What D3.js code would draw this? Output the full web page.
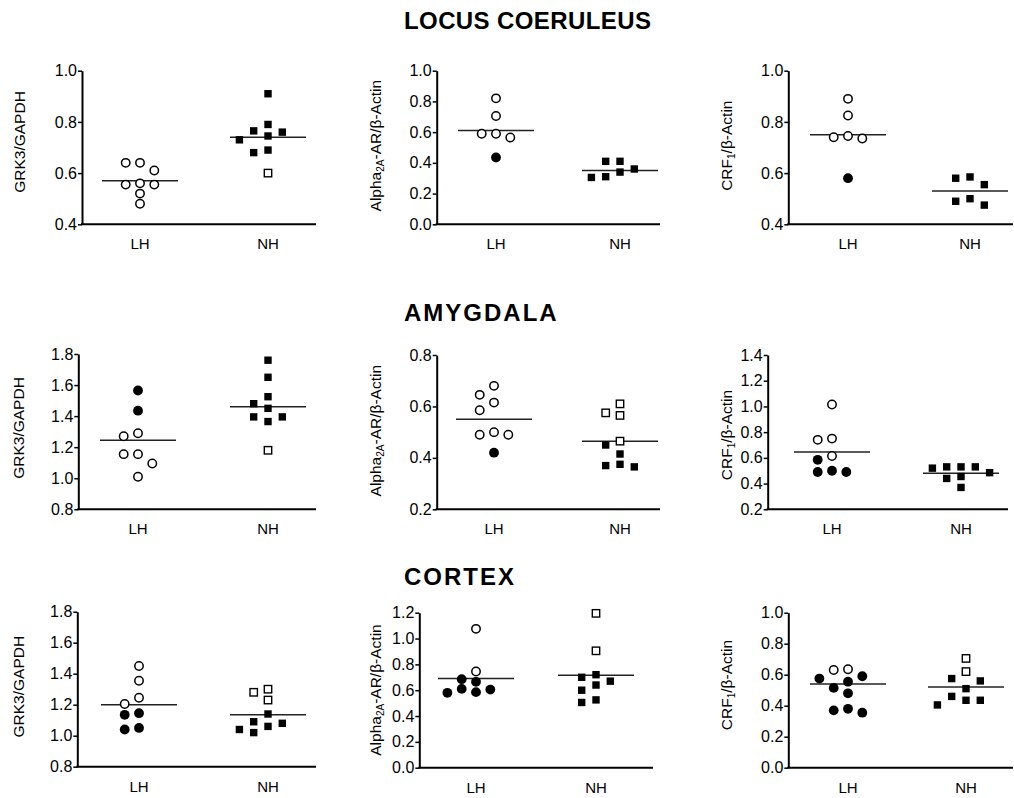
<!DOCTYPE html>
<html>
<head>
<meta charset="utf-8">
<script src="https://cdn.jsdelivr.net/npm/d3@7"></script>
<style>
  body { margin: 0; background: #fff; }
  svg { display: block; }
  text { font-family: Arial, "Liberation Sans", sans-serif; fill: #000; }
</style>
</head>
<body>
<svg id="chart" width="1014" height="798"></svg>
<script>
// ---- data ----
const groups = ["LH", "NH"];
const regions = ["LOCUS COERULEUS", "AMYGDALA", "CORTEX"];

// Locus coeruleus
const lcGrkLhOpen = [0.64, 0.64, 0.61, 0.56, 0.555, 0.555, 0.52, 0.48];
const lcGrkLhFilled = [];
const lcGrkNhOpen = [0.60];
const lcGrkNhFilled = [0.91, 0.79, 0.76, 0.765, 0.745, 0.73, 0.69, 0.68];
const lcGrkMeans = [0.57, 0.74];

const lcAlphaLhOpen = [0.82, 0.705, 0.59, 0.59, 0.565];
const lcAlphaLhFilled = [0.435];
const lcAlphaNhOpen = [];
const lcAlphaNhFilled = [0.41, 0.41, 0.34, 0.36, 0.305, 0.31];
const lcAlphaMeans = [0.61, 0.35];

const lcCrfLhOpen = [0.89, 0.825, 0.74, 0.735, 0.745];
const lcCrfLhFilled = [0.58];
const lcCrfNhOpen = [];
const lcCrfNhFilled = [0.58, 0.555, 0.585, 0.50, 0.49, 0.475];
const lcCrfMeans = [0.75, 0.53];

// Amygdala
const amGrkLhOpen = [1.27, 1.29, 1.155, 1.155, 1.095, 1.01];
const amGrkLhFilled = [1.565, 1.435];
const amGrkNhOpen = [1.18];
const amGrkNhFilled = [1.76, 1.65, 1.525, 1.48, 1.45, 1.395, 1.395, 1.365];
const amGrkMeans = [1.245, 1.46];

const amAlphaLhOpen = [0.68, 0.645, 0.615, 0.585, 0.49, 0.49, 0.50];
const amAlphaLhFilled = [0.42];
const amAlphaNhOpen = [0.61, 0.565, 0.575, 0.465];
const amAlphaNhFilled = [0.45, 0.415, 0.375, 0.365, 0.37];
const amAlphaMeans = [0.55, 0.465];

const amCrfLhOpen = [1.015, 0.74, 0.75, 0.615];
const amCrfLhFilled = [0.585, 0.50, 0.49, 0.49];
const amCrfNhOpen = [];
const amCrfNhFilled = [0.53, 0.53, 0.53, 0.52, 0.485, 0.455, 0.44, 0.37];
const amCrfMeans = [0.645, 0.48];

// Cortex
const cxGrkLhOpen = [1.45, 1.355, 1.245, 1.205];
const cxGrkLhFilled = [1.145, 1.135, 1.04, 1.05];
const cxGrkNhOpen = [1.30, 1.28, 1.23];
const cxGrkNhFilled = [1.14, 1.09, 1.06, 1.08, 1.04, 1.02];
const cxGrkMeans = [1.20, 1.135];

const cxAlphaLhOpen = [1.075, 0.745];
const cxAlphaLhFilled = [0.665, 0.685, 0.605, 0.58, 0.585, 0.61];
const cxAlphaNhOpen = [1.195, 0.905];
const cxAlphaNhFilled = [0.72, 0.64, 0.60, 0.67, 0.70, 0.525, 0.505];
const cxAlphaMeans = [0.69, 0.715];

const cxCrfLhOpen = [0.63, 0.635];
const cxCrfLhFilled = [0.59, 0.575, 0.555, 0.515, 0.48, 0.38, 0.37, 0.355];
const cxCrfNhOpen = [0.705, 0.62];
const cxCrfNhFilled = [0.575, 0.56, 0.51, 0.46, 0.435, 0.435, 0.405];
const cxCrfMeans = [0.54, 0.52];

// ---- layout ----
const SLOT = 14.3;     // horizontal spacing of dodged points
const MIN_DY = 9.5;    // vertical distance below which points are dodged
const MEAN_HALF = 38;

const panels = [
  { label: "grk", domain: [0.4, 1.0], left: 82, right: 316, top: 70.7, bottom: 224.3, lh: 140, nh: 268, lx: 21, ly: 142,
    sets: [[lcGrkLhOpen, lcGrkLhFilled], [lcGrkNhOpen, lcGrkNhFilled]], means: lcGrkMeans },
  { label: "alpha", domain: [0.0, 1.0], left: 436.7, right: 660, top: 70.7, bottom: 224.3, lh: 496, nh: 620, lx: 376.7, ly: 145.7,
    sets: [[lcAlphaLhOpen, lcAlphaLhFilled], [lcAlphaNhOpen, lcAlphaNhFilled]], means: lcAlphaMeans },
  { label: "crf", domain: [0.4, 1.0], left: 788.3, right: 1013, top: 70.7, bottom: 224.3, lh: 848, nh: 970, lx: 728.3, ly: 145.7,
    sets: [[lcCrfLhOpen, lcCrfLhFilled], [lcCrfNhOpen, lcCrfNhFilled]], means: lcCrfMeans },

  { label: "grk", domain: [0.8, 1.8], left: 78.3, right: 316, top: 354, bottom: 509.3, lh: 138, nh: 268, lx: 20, ly: 428,
    sets: [[amGrkLhOpen, amGrkLhFilled], [amGrkNhOpen, amGrkNhFilled]], means: amGrkMeans },
  { label: "alpha", domain: [0.2, 0.8], left: 436.7, right: 660, top: 355, bottom: 509.3, lh: 494, nh: 620, lx: 376.7, ly: 430.7,
    sets: [[amAlphaLhOpen, amAlphaLhFilled], [amAlphaNhOpen, amAlphaNhFilled]], means: amAlphaMeans },
  { label: "crf", domain: [0.2, 1.4], left: 767.7, right: 1008, top: 355, bottom: 509.3, lh: 832, nh: 961, lx: 728.3, ly: 435,
    sets: [[amCrfLhOpen, amCrfLhFilled], [amCrfNhOpen, amCrfNhFilled]], means: amCrfMeans },

  { label: "grk", domain: [0.8, 1.8], left: 77.3, right: 316, top: 611.7, bottom: 766.7, lh: 139, nh: 268, lx: 20, ly: 686.7,
    sets: [[cxGrkLhOpen, cxGrkLhFilled], [cxGrkNhOpen, cxGrkNhFilled]], means: cxGrkMeans },
  { label: "alpha", domain: [0.0, 1.2], left: 419.3, right: 653, top: 612.7, bottom: 767.7, lh: 476, nh: 596, lx: 376.7, ly: 690,
    sets: [[cxAlphaLhOpen, cxAlphaLhFilled], [cxAlphaNhOpen, cxAlphaNhFilled]], means: cxAlphaMeans },
  { label: "crf", domain: [0.0, 1.0], left: 788.3, right: 1013, top: 612.7, bottom: 767.7, lh: 848, nh: 966, lx: 728.3, ly: 685,
    sets: [[cxCrfLhOpen, cxCrfLhFilled], [cxCrfNhOpen, cxCrfNhFilled]], means: cxCrfMeans },
];

const titleY = [28.5, 321, 585];

const svg = d3.select("#chart");

// Section titles
svg.selectAll("text.title")
  .data(regions)
  .join("text")
  .attr("class", "title")
  .attr("x", 404)
  .attr("y", (d, i) => titleY[i])
  .attr("font-size", 24)
  .attr("font-weight", "bold")
  .attr("letter-spacing", (d, i) => (i === 0 ? 0.4 : 2))
  .text((d) => d);

// Dodge points that would overlap: highest value first, nearest free slot to the centre.
function dodge(points, y) {
  const placed = [];
  points
    .slice()
    .sort((a, b) => b.v - a.v)
    .forEach((p) => {
      const py = y(p.v);
      for (let k = 0; ; k++) {
        const slot = k === 0 ? 0 : k % 2 ? -Math.ceil(k / 2) : Math.ceil(k / 2);
        if (!placed.some((q) => q.slot === slot && Math.abs(q.py - py) < MIN_DY)) {
          placed.push({ slot, py });
          p.slot = slot;
          break;
        }
      }
    });
  return points;
}

function yLabel(g, p) {
  const t = g.append("text")
    .attr("transform", `translate(${p.lx},${p.ly}) rotate(-90)`)
    .attr("text-anchor", "middle")
    .attr("dominant-baseline", "middle")
    .attr("font-size", 15.5);
  if (p.label === "grk") {
    t.text("GRK3/GAPDH");
  } else if (p.label === "alpha") {
    t.append("tspan").text("Alpha");
    t.append("tspan").attr("font-size", 10).attr("dy", 4).text("2A");
    t.append("tspan").attr("dy", -4).text("-AR/β-Actin");
  } else {
    t.append("tspan").text("CRF");
    t.append("tspan").attr("font-size", 10).attr("dy", 4).text("1");
    t.append("tspan").attr("dy", -4).text("/β-Actin");
  }
}

panels.forEach((p) => {
  const g = svg.append("g");
  const y = d3.scaleLinear().domain(p.domain).range([p.bottom, p.top]);
  const x = d3.scalePoint().domain(groups).range([p.lh, p.nh]);

  // y axis
  const ticks = d3.range(p.domain[0], p.domain[1] + 1e-9, 0.2);
  const yAxis = g.append("g")
    .attr("transform", `translate(${p.left},0)`)
    .call(d3.axisLeft(y).tickValues(ticks).tickFormat(d3.format(".1f")).tickSize(4).tickPadding(1).tickSizeOuter(0));
  yAxis.select(".domain").attr("stroke-width", 2).attr("stroke", "#000");
  yAxis.selectAll(".tick line").attr("stroke-width", 1.5).attr("stroke", "#000");
  yAxis.selectAll(".tick text").attr("font-size", 16).attr("font-family", "Arial, 'Liberation Sans', sans-serif").attr("fill", "#000");

  // x axis line and group labels
  g.append("line")
    .attr("x1", p.left - 1).attr("x2", p.right)
    .attr("y1", p.bottom).attr("y2", p.bottom)
    .attr("stroke", "#000").attr("stroke-width", 2);
  g.selectAll("text.grp")
    .data(groups)
    .join("text")
    .attr("class", "grp")
    .attr("x", (d) => x(d))
    .attr("y", p.bottom + 25)
    .attr("text-anchor", "middle")
    .attr("font-size", 15)
    .text((d) => d);

  yLabel(g, p);

  groups.forEach((grp, gi) => {
    const [open, filled] = p.sets[gi];
    const pts = dodge(
      open.map((v) => ({ v, filled: false })).concat(filled.map((v) => ({ v, filled: true }))),
      y
    );
    const cx = (d) => x(grp) + d.slot * SLOT;

    // mean line
    g.append("line")
      .attr("x1", x(grp) - MEAN_HALF).attr("x2", x(grp) + MEAN_HALF)
      .attr("y1", y(p.means[gi])).attr("y2", y(p.means[gi]))
      .attr("stroke", "#222").attr("stroke-width", 1.5);

    if (grp === "LH") {
      g.selectAll(null)
        .data(pts)
        .join("circle")
        .attr("cx", cx)
        .attr("cy", (d) => y(d.v))
        .attr("r", (d) => (d.filled ? 4.9 : 4.2))
        .attr("fill", (d) => (d.filled ? "#000" : "#fff"))
        .attr("stroke", "#000")
        .attr("stroke-width", (d) => (d.filled ? 0 : 1.5));
    } else {
      g.selectAll(null)
        .data(pts)
        .join("rect")
        .attr("x", (d) => cx(d) - 3.7)
        .attr("y", (d) => y(d.v) - 3.7)
        .attr("width", 7.4)
        .attr("height", 7.4)
        .attr("fill", (d) => (d.filled ? "#000" : "#fff"))
        .attr("stroke", "#000")
        .attr("stroke-width", (d) => (d.filled ? 0 : 1.4));
    }
  });
});
</script>
</body>
</html>
